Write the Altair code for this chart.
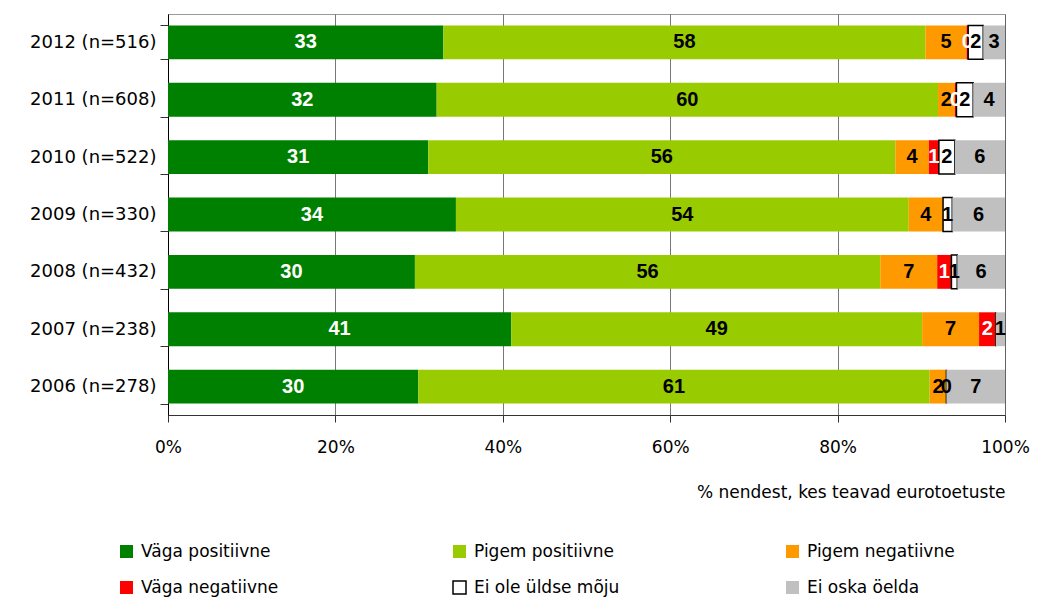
import altair as alt
import pandas as pd

years = ['2012 (n=516)', '2011 (n=608)', '2010 (n=522)', '2009 (n=330)',
         '2008 (n=432)', '2007 (n=238)', '2006 (n=278)']
categories = ['Väga positiivne', 'Pigem positiivne', 'Pigem negatiivne',
              'Väga negatiivne', 'Ei ole üldse mõju', 'Ei oska öelda']
colors = ['#008000', '#99CC00', '#FF9900', '#FF0000', '#FFFFFF', '#C0C0C0']
strokes = ['transparent', 'transparent', 'transparent', 'transparent', '#000000', 'transparent']

vaga_pos = [32.9, 32.1, 31.1, 34.4, 29.5, 41.0, 29.9]
pigem_pos = [57.6, 59.9, 55.8, 54.1, 55.6, 49.1, 61.1]
pigem_neg = [4.9, 2.0, 4.0, 4.1, 6.8, 6.8, 2.0]
vaga_neg = [0.2, 0.2, 1.2, 0.0, 1.7, 2.0, 0.0]
ei_moju = [1.8, 2.0, 1.9, 1.1, 0.7, 0.0, 0.0]
ei_oska = [2.6, 3.8, 6.0, 6.3, 5.7, 1.1, 7.0]

lbl_vaga_pos = ['33', '32', '31', '34', '30', '41', '30']
lbl_pigem_pos = ['58', '60', '56', '54', '56', '49', '61']
lbl_pigem_neg = ['5', '2', '4', '4', '7', '7', '2']
lbl_vaga_neg = ['0', '0', '1', '', '1', '2', '']
lbl_ei_moju = ['2', '2', '2', '1', '1', '', '0']
lbl_ei_oska = ['3', '4', '6', '6', '6', '1', '7']

series = [vaga_pos, pigem_pos, pigem_neg, vaga_neg, ei_moju, ei_oska]
labels = [lbl_vaga_pos, lbl_pigem_pos, lbl_pigem_neg, lbl_vaga_neg, lbl_ei_moju, lbl_ei_oska]

rows = []
for ci, (cat, vals, lbls) in enumerate(zip(categories, series, labels)):
    for yi, y in enumerate(years):
        rows.append({'year': y, 'cat': cat, 'value': vals[yi], 'label': lbls[yi], 'order': ci})
df = pd.DataFrame(rows)

FONT = 'DejaVu Sans'

base = alt.Chart(df).transform_stack(
    stack='value', groupby=['year'], as_=['x0', 'x1'],
    sort=[alt.SortField('order', order='ascending')]
).transform_calculate(mid='(datum.x0 + datum.x1) / 2')

ycommon = alt.Y('year:N', sort=years, title=None,
                scale=alt.Scale(paddingInner=0.41, paddingOuter=0.2),
                axis=alt.Axis(labelFont=FONT, labelFontSize=18, labelColor='#000000',
                              labelPadding=4, ticks=True, tickBand='extent', tickSize=8,
                              tickColor='#333333', domainColor='#000000', grid=False))

legend = alt.Legend(title=None, orient='none', direction='horizontal',
                    legendX=-50, legendY=529, columns=3,
                    gridAlign='all', columnPadding=161, rowPadding=17,
                    symbolType='square', symbolSize=169, symbolStrokeWidth=1.5,
                    labelFont=FONT, labelFontSize=17, labelColor='#000000',
                    labelOffset=6)

bars = base.mark_bar(strokeWidth=1.5).encode(
    y=ycommon,
    x=alt.X('x0:Q', scale=alt.Scale(domain=[0, 100]),
            title='% nendest, kes teavad eurotoetuste',
            axis=alt.Axis(values=[0, 20, 40, 60, 80, 100], labelExpr="datum.value + '%'",
                          labelFlush=False,
                          labelFont=FONT, labelFontSize=17, labelColor='#000000',
                          labelPadding=17, tickSize=7, tickColor='#333333',
                          domainColor='#333333', grid=True, gridColor='#555555',
                          gridWidth=0.8, titleFont=FONT, titleFontSize=17,
                          titleFontWeight='normal', titleColor='#000000',
                          titleAnchor='end', titleAlign='right', titlePadding=29)),
    x2='x1:Q',
    color=alt.Color('cat:N', scale=alt.Scale(domain=categories, range=colors), legend=legend),
    stroke=alt.Stroke('cat:N', scale=alt.Scale(domain=categories, range=strokes), legend=legend),
)

text = base.mark_text(font='Liberation Sans', fontWeight='bold', fontSize=20,
                      align='center', baseline='middle').encode(
    y=alt.Y('year:N', sort=years),
    x=alt.X('mid:Q'),
    text='label:N',
    color=alt.condition(
        "datum.cat === 'Väga positiivne' || datum.cat === 'Väga negatiivne'",
        alt.value('#FFFFFF'), alt.value('#000000')),
)

chart = alt.layer(bars, text).properties(
    width=837, height=401,
    autosize=alt.AutoSizeParams(type='none'),
    padding={'left': 160, 'top': 6, 'right': 26, 'bottom': 186},
).configure_view(stroke='#999999', strokeWidth=1)

chart.save('out.html', embed_options={'renderer': 'svg', 'actions': False})
